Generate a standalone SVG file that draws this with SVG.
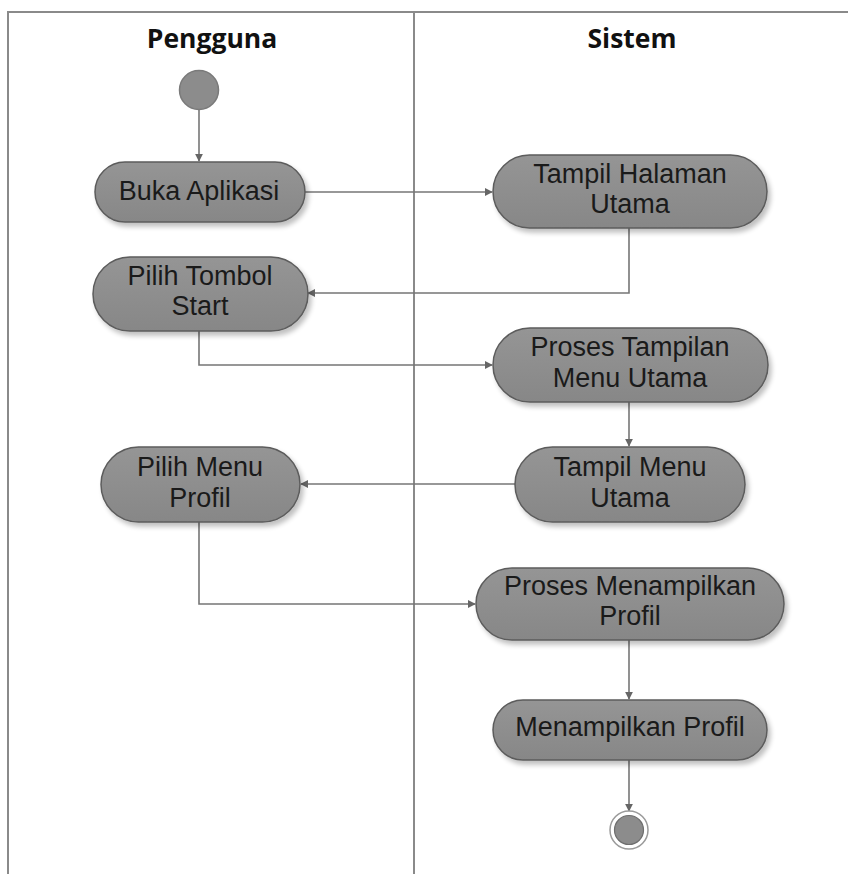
<svg xmlns="http://www.w3.org/2000/svg" width="848" height="874" viewBox="0 0 848 874">
  <style>
    .lane { stroke: #8a8a8a; stroke-width: 2; fill: none; }
    .title { font-family: "Open Sans", "Liberation Sans", sans-serif; font-weight: bold; font-size: 26.5px; fill: #111; text-anchor: middle; }
    .act { fill: url(#actFill); stroke: #5c5c5c; stroke-width: 1.5; filter: url(#shadow); }
    .label { font-family: "Liberation Sans", Arial, sans-serif; font-size: 27px; fill: #1a1a1a; text-anchor: middle; }
    .flow { stroke: #767676; stroke-width: 1.6; fill: none; marker-end: url(#arrow); }
  </style>
  <defs>
    <linearGradient id="actFill" x1="0" y1="0" x2="0" y2="1">
      <stop offset="0" stop-color="#959595"/>
      <stop offset="1" stop-color="#878787"/>
    </linearGradient>
    <filter id="shadow" x="-10%" y="-20%" width="125%" height="150%">
      <feGaussianBlur in="SourceAlpha" stdDeviation="2.5"/>
      <feOffset dx="3" dy="4" result="blur"/>
      <feComponentTransfer><feFuncA type="linear" slope="0.25"/></feComponentTransfer>
      <feMerge><feMergeNode/><feMergeNode in="SourceGraphic"/></feMerge>
    </filter>
    <marker id="arrow" viewBox="0 0 10 10" refX="9" refY="5" markerWidth="8" markerHeight="8" markerUnits="userSpaceOnUse" orient="auto">
      <path d="M0,0 L10,5 L0,10 z" fill="#666"/>
    </marker>
  </defs>

  <rect width="848" height="874" fill="#fff"/>

  <!-- swimlanes -->
  <g id="lanes">
    <path class="lane" d="M8,874 V12 H848"/>
    <path class="lane" d="M414,12 V874"/>
    <text class="title" x="212" y="48">Pengguna</text>
    <text class="title" x="632" y="48">Sistem</text>
  </g>

  <!-- connectors -->
  <g id="connectors">
    <path class="flow" d="M199,110 V161"/>
    <path class="flow" d="M305,192 H492"/>
    <path class="flow" d="M629,228 V293 H308"/>
    <path class="flow" d="M199,331 V365 H492"/>
    <path class="flow" d="M629,402 V446"/>
    <path class="flow" d="M515,484 H301"/>
    <path class="flow" d="M199,522 V604 H475"/>
    <path class="flow" d="M629,640 V699"/>
    <path class="flow" d="M629,760 V811"/>
  </g>

  <g id="start">
    <circle cx="199" cy="90" r="19.5" fill="#8c8c8c" stroke="#7a7a7a" stroke-width="1.5"/>
  </g>

  <g id="buka-aplikasi">
    <rect class="act" x="95" y="162" width="210" height="60" rx="30"/>
    <text class="label" x="199" y="200">Buka Aplikasi</text>
  </g>

  <g id="tampil-halaman-utama">
    <rect class="act" x="493" y="155" width="274" height="73" rx="36.5"/>
    <text class="label" x="630" y="183">Tampil Halaman</text>
    <text class="label" x="630" y="213">Utama</text>
  </g>

  <g id="pilih-tombol-start">
    <rect class="act" x="93" y="257" width="215" height="74" rx="37"/>
    <text class="label" x="200" y="285">Pilih Tombol</text>
    <text class="label" x="200" y="315">Start</text>
  </g>

  <g id="proses-tampilan-menu-utama">
    <rect class="act" x="493" y="328" width="275" height="74" rx="37"/>
    <text class="label" x="630" y="356">Proses Tampilan</text>
    <text class="label" x="630" y="387">Menu Utama</text>
  </g>

  <g id="tampil-menu-utama">
    <rect class="act" x="515" y="447" width="230" height="75" rx="37.5"/>
    <text class="label" x="630" y="476">Tampil Menu</text>
    <text class="label" x="630" y="507">Utama</text>
  </g>

  <g id="pilih-menu-profil">
    <rect class="act" x="101" y="447" width="199" height="75" rx="37.5"/>
    <text class="label" x="200" y="476">Pilih Menu</text>
    <text class="label" x="200" y="507">Profil</text>
  </g>

  <g id="proses-menampilkan-profil">
    <rect class="act" x="476" y="568" width="308" height="72" rx="36"/>
    <text class="label" x="630" y="595">Proses Menampilkan</text>
    <text class="label" x="630" y="625">Profil</text>
  </g>

  <g id="menampilkan-profil">
    <rect class="act" x="493" y="700" width="274" height="60" rx="30"/>
    <text class="label" x="630" y="736">Menampilkan Profil</text>
  </g>

  <g id="end">
    <circle cx="629" cy="830" r="19" fill="#fff" stroke="#9a9a9a" stroke-width="1.5"/>
    <circle cx="629" cy="830" r="14.5" fill="#8c8c8c" stroke="#6e6e6e" stroke-width="1.2"/>
  </g>
</svg>
